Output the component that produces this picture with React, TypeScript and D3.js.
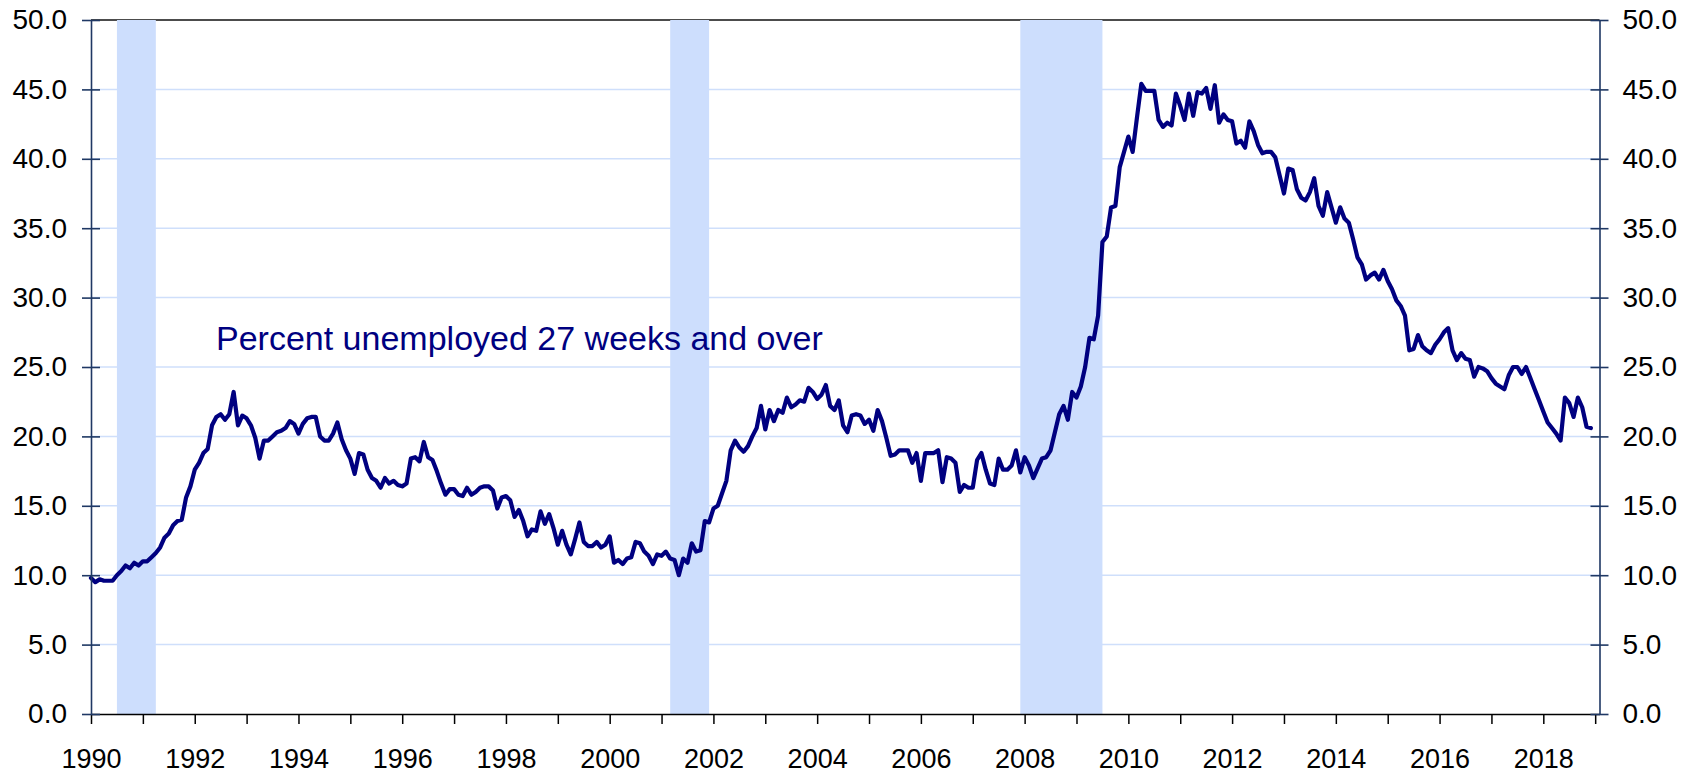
import React, { useRef, useEffect } from "react";
import * as d3 from "d3";

// monthly share of unemployed who have been out of work 27 weeks or more, Jan 1990 - Dec 2018
const startYear = 1990;

const values1990s = [
  9.8, 9.5, 9.7, 9.6, 9.6, 9.6, 10.0, 10.3, 10.7, 10.5, 10.9, 10.7,
  11.0, 11.0, 11.3, 11.6, 12.0, 12.7, 13.0, 13.6, 13.9, 14.0, 15.6, 16.4,
  17.6, 18.1, 18.8, 19.1, 20.8, 21.4, 21.6, 21.2, 21.6, 23.2, 20.8, 21.5,
  21.3, 20.8, 19.9, 18.4, 19.7, 19.7, 20.0, 20.3, 20.4, 20.6, 21.1, 20.9,
  20.2, 20.9, 21.3, 21.4, 21.4, 20.0, 19.7, 19.7, 20.2, 21.0, 19.8, 19.0,
  18.4, 17.3, 18.8, 18.7, 17.6, 17.0, 16.8, 16.3, 17.0, 16.6, 16.8, 16.5,
  16.4, 16.6, 18.4, 18.5, 18.2, 19.6, 18.5, 18.3, 17.5, 16.6, 15.8, 16.2,
  16.2, 15.8, 15.7, 16.3, 15.8, 16.0, 16.3, 16.4, 16.4, 16.1, 14.8, 15.6,
  15.7, 15.4, 14.2, 14.7, 13.9, 12.8, 13.3, 13.2, 14.6, 13.7, 14.4, 13.4,
  12.2, 13.2, 12.2, 11.5, 12.6, 13.8, 12.4, 12.1, 12.1, 12.4, 12.0, 12.2,
];

const values2000s = [
  12.8, 10.9, 11.1, 10.8, 11.2, 11.3, 12.4, 12.3, 11.7, 11.4, 10.8, 11.5,
  11.4, 11.7, 11.2, 11.1, 10.0, 11.2, 10.9, 12.3, 11.7, 11.8, 13.9, 13.8,
  14.8, 15.0, 15.9, 16.8, 19.0, 19.7, 19.2, 18.9, 19.3, 20.0, 20.6, 22.2,
  20.5, 21.9, 21.1, 21.9, 21.7, 22.8, 22.1, 22.3, 22.6, 22.5, 23.5, 23.2,
  22.7, 23.0, 23.7, 22.2, 21.9, 22.6, 20.8, 20.3, 21.5, 21.6, 21.5, 20.9,
  21.2, 20.4, 21.9, 21.1, 19.9, 18.6, 18.7, 19.0, 19.0, 19.0, 18.1, 18.8,
  16.8, 18.8, 18.8, 18.8, 19.0, 16.7, 18.5, 18.4, 18.1, 16.0, 16.5, 16.3,
  16.3, 18.3, 18.8, 17.6, 16.6, 16.5, 18.4, 17.6, 17.6, 17.9, 19.0, 17.4,
  18.5, 17.9, 17.0, 17.7, 18.4, 18.5, 19.0, 20.3, 21.6, 22.2, 21.2, 23.2,
  22.8, 23.6, 25.0, 27.1, 27.0, 28.7, 34.0, 34.4, 36.5, 36.6, 39.4, 40.5,
];

const values2010s = [
  41.6, 40.5, 43.0, 45.4, 44.9, 44.9, 44.9, 42.8, 42.3, 42.6, 42.4, 44.7,
  43.8, 42.8, 44.7, 43.1, 44.8, 44.7, 45.1, 43.6, 45.3, 42.6, 43.2, 42.8,
  42.7, 41.1, 41.3, 40.8, 42.7, 42.0, 41.0, 40.4, 40.5, 40.5, 40.1, 38.8,
  37.5, 39.3, 39.2, 37.8, 37.2, 37.0, 37.6, 38.6, 36.6, 35.9, 37.6, 36.5,
  35.4, 36.5, 35.7, 35.4, 34.2, 32.9, 32.4, 31.3, 31.6, 31.8, 31.3, 32.0,
  31.2, 30.6, 29.8, 29.4, 28.7, 26.2, 26.3, 27.3, 26.5, 26.2, 26.0, 26.6,
  27.0, 27.5, 27.8, 26.2, 25.5, 26.0, 25.6, 25.5, 24.3, 25.0, 24.9, 24.7,
  24.2, 23.8, 23.6, 23.4, 24.4, 25.0, 25.0, 24.5, 25.0, 24.2, 23.4, 22.6,
  21.8, 21.0, 20.6, 20.2, 19.7, 22.8, 22.4, 21.4, 22.8, 22.1, 20.7, 20.6,
];

// shaded recessions (first and last month)
const recessionStart = ["1990-07", "2001-03", "2007-12"];
const recessionEnd = ["1991-03", "2001-11", "2009-06"];

const yTicks = [0, 5, 10, 15, 20, 25, 30, 35, 40, 45, 50];
const tickYears = d3.range(1990, 2020);
const labelYears = [1990, 1992, 1994, 1996, 1998, 2000, 2002, 2004, 2006, 2008, 2010, 2012, 2014, 2016, 2018];
const annotation = "Percent unemployed 27 weeks and over";

const W = 1694;
const H = 774;
const FONT = "'Liberation Sans', Arial, sans-serif";

const monthIndex = (s: string) => {
  const [yy, mm] = s.split("-").map(Number);
  return (yy - startYear) * 12 + (mm - 1);
};

const App = () => {
  const svgRef = useRef<SVGSVGElement>(null);

  useEffect(() => {
    const svg = d3.select(svgRef.current);
    svg.selectAll("*").remove();

    const values = [...values1990s, ...values2000s, ...values2010s];

    const x = d3.scaleLinear().domain([0, 349]).range([91, 1599.5]);
    const y = d3.scaleLinear().domain([0, 50]).range([714, 20]);
    const [x0, x1] = x.range();

    // gridlines
    svg.append("g")
      .selectAll("line")
      .data(yTicks.filter(d => d > 0 && d < 50))
      .join("line")
      .attr("x1", x0)
      .attr("x2", x1)
      .attr("y1", d => y(d))
      .attr("y2", d => y(d))
      .attr("stroke", "#cfdffb")
      .attr("stroke-width", 1.5);

    // top border of plot area
    svg.append("line")
      .attr("x1", x0).attr("x2", x1)
      .attr("y1", y(50)).attr("y2", y(50))
      .attr("stroke", "#111")
      .attr("stroke-width", 1.5);

    // recession bars
    svg.append("g")
      .selectAll("rect")
      .data(recessionStart.map((s, i) => [monthIndex(s), monthIndex(recessionEnd[i]) + 1]))
      .join("rect")
      .attr("x", d => x(d[0]))
      .attr("width", d => x(d[1]) - x(d[0]))
      .attr("y", y(50))
      .attr("height", y(0) - y(50))
      .attr("fill", "#cddefd");

    svg.append("text")
      .attr("x", 216)
      .attr("y", 350)
      .attr("font-family", FONT)
      .attr("font-size", 34)
      .attr("fill", "#000080")
      .text(annotation);

    const line = d3.line<number>()
      .x((d, i) => x(i))
      .y(d => y(d));

    svg.append("path")
      .datum(values)
      .attr("d", line)
      .attr("fill", "none")
      .attr("stroke", "#000080")
      .attr("stroke-width", 4.2)
      .attr("stroke-linejoin", "round")
      .attr("stroke-linecap", "round");

    // x axis
    const xAxis = d3.axisBottom(x)
      .tickValues(tickYears.map(yr => (yr - startYear) * 12))
      .tickSize(10)
      .tickSizeOuter(0)
      .tickPadding(25)
      .tickFormat(d => {
        const yr = startYear + Math.round(+d / 12);
        return labelYears.includes(yr) ? String(yr) : "";
      });
    const gx = svg.append("g")
      .attr("transform", `translate(0,${y(0)})`)
      .call(xAxis)
      .attr("font-family", FONT)
      .attr("font-size", 27);
    gx.select(".domain").attr("stroke", "#000").attr("stroke-width", 1.5);
    gx.selectAll(".tick line").attr("stroke", "#000").attr("stroke-width", 1.5);
    gx.selectAll(".tick text").attr("fill", "#000");

    // left and right value axes
    const fmt = d3.format(".1f");
    const gl = svg.append("g")
      .attr("transform", `translate(${x0},0)`)
      .call(d3.axisLeft(y).tickValues(yTicks).tickSize(9).tickSizeOuter(0).tickPadding(15).tickFormat(fmt))
      .attr("font-family", FONT)
      .attr("font-size", 28);
    gl.selectAll(".tick line").attr("x1", 9);

    const gr = svg.append("g")
      .attr("transform", `translate(${x1},0)`)
      .call(d3.axisRight(y).tickValues(yTicks).tickSize(9).tickSizeOuter(0).tickPadding(14).tickFormat(fmt))
      .attr("font-family", FONT)
      .attr("font-size", 28);
    gr.selectAll(".tick line").attr("x1", -9);

    [gl, gr].forEach(g => {
      g.select(".domain").attr("stroke", "#1f3864").attr("stroke-width", 1.6);
      g.selectAll(".tick line").attr("stroke", "#1f3864").attr("stroke-width", 1.6);
      g.selectAll(".tick text").attr("fill", "#000");
    });
  }, []);

  return (
    <svg
      ref={svgRef}
      width={W}
      height={H}
      style={{ position: "absolute", left: 0, top: 0, background: "#fff", display: "block" }}
    />
  );
};

export default App;
